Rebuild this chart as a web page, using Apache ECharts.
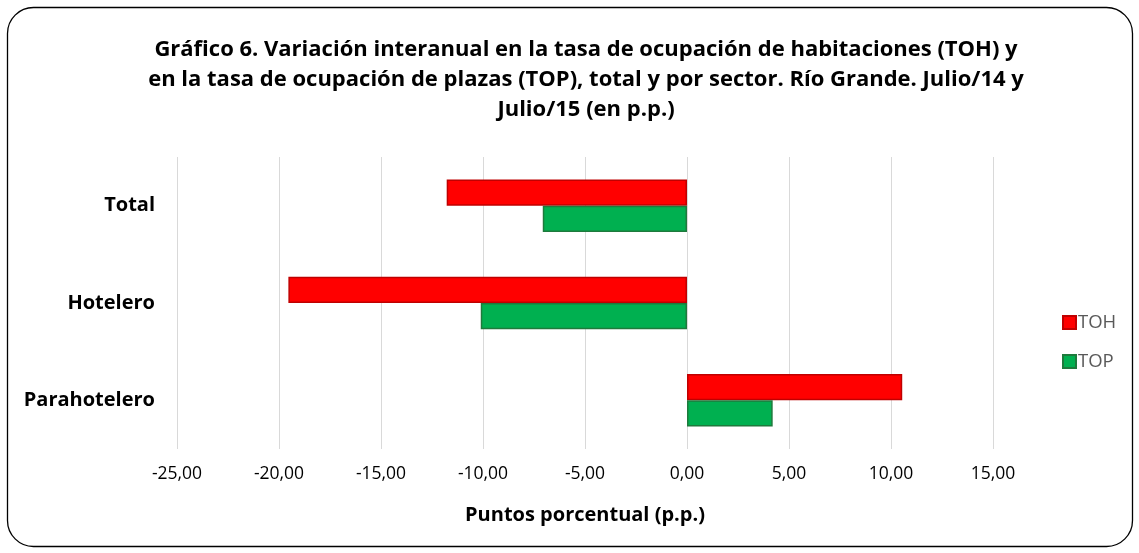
<!DOCTYPE html>
<html><head><meta charset="utf-8">
<script src="https://cdn.jsdelivr.net/npm/echarts@6/dist/echarts.min.js"></script>
<style>html,body{margin:0;padding:0;background:#fff}#c{width:1139px;height:553px}</style>
</head><body><div id="c"></div>
<script>
const categories = ['Total', 'Hotelero', 'Parahotelero'];
const tohValues = [-11.78, -19.54, 10.55];
const topValues = [-7.07, -10.11, 4.2];
const seriesNames = ['TOH', 'TOP'];
const titleText = 'Gráfico 6. Variación interanual en la tasa de ocupación de habitaciones (TOH) y\nen la tasa de ocupación de plazas (TOP), total y por sector. Río Grande. Julio/14 y\nJulio/15 (en p.p.)';
const axisName = 'Puntos porcentual (p.p.)';

const chart = echarts.init(document.getElementById('c'), null, {renderer: 'canvas'});
const font = "'Open Sans', sans-serif";
chart.setOption({
  animation: false,
  textStyle: {fontFamily: font},
  graphic: [{type: 'rect', shape: {x: 7.5, y: 7.5, width: 1125, height: 539, r: 26}, style: {fill: 'none', stroke: '#000', lineWidth: 1.3}, z: -1}],
  title: {text: titleText, left: 581, textAlign: 'center', top: 30,
    textStyle: {fontFamily: font, fontWeight: 'bold', fontSize: 22, lineHeight: 30, color: '#000'}},
  legend: {orient: 'vertical', left: 1057, top: 308, itemGap: 20, itemWidth: 13, itemHeight: 13,
    icon: 'rect', textStyle: {fontFamily: font, fontSize: 18.5, color: '#595959', padding: [0,0,0,-3]}},
  grid: {left: 177, right: 146, top: 157, bottom: 104},
  xAxis: {type: 'value', min: -25, max: 15, interval: 5,
    axisLine: {show: false}, axisTick: {show: false},
    splitLine: {lineStyle: {color: '#d9d9d9', width: 1}},
    axisLabel: {margin: 16, fontFamily: font, fontSize: 17.5, color: '#000', formatter: v => v.toFixed(2).replace('.', ',')},
    name: axisName, nameLocation: 'middle', nameGap: 56,
    nameTextStyle: {fontFamily: font, fontSize: 20, fontWeight: 'bold', color: '#000'}},
  yAxis: {type: 'category', data: categories, inverse: true,
    axisLine: {show: false}, axisTick: {show: false},
    axisLabel: {margin: 22, fontFamily: font, fontSize: 20, fontWeight: 'bold', color: '#000'}},
  series: [
    {name: seriesNames[0], type: 'bar', data: tohValues, barGap: '0%', barCategoryGap: '46%',
      itemStyle: {color: '#ff0000', borderColor: '#c00000', borderWidth: 1.5}},
    {name: seriesNames[1], type: 'bar', data: topValues, barGap: '0%', barCategoryGap: '46%',
      itemStyle: {color: '#00b050', borderColor: '#1e7a3c', borderWidth: 1.5}}
  ]
});
</script></body></html>
